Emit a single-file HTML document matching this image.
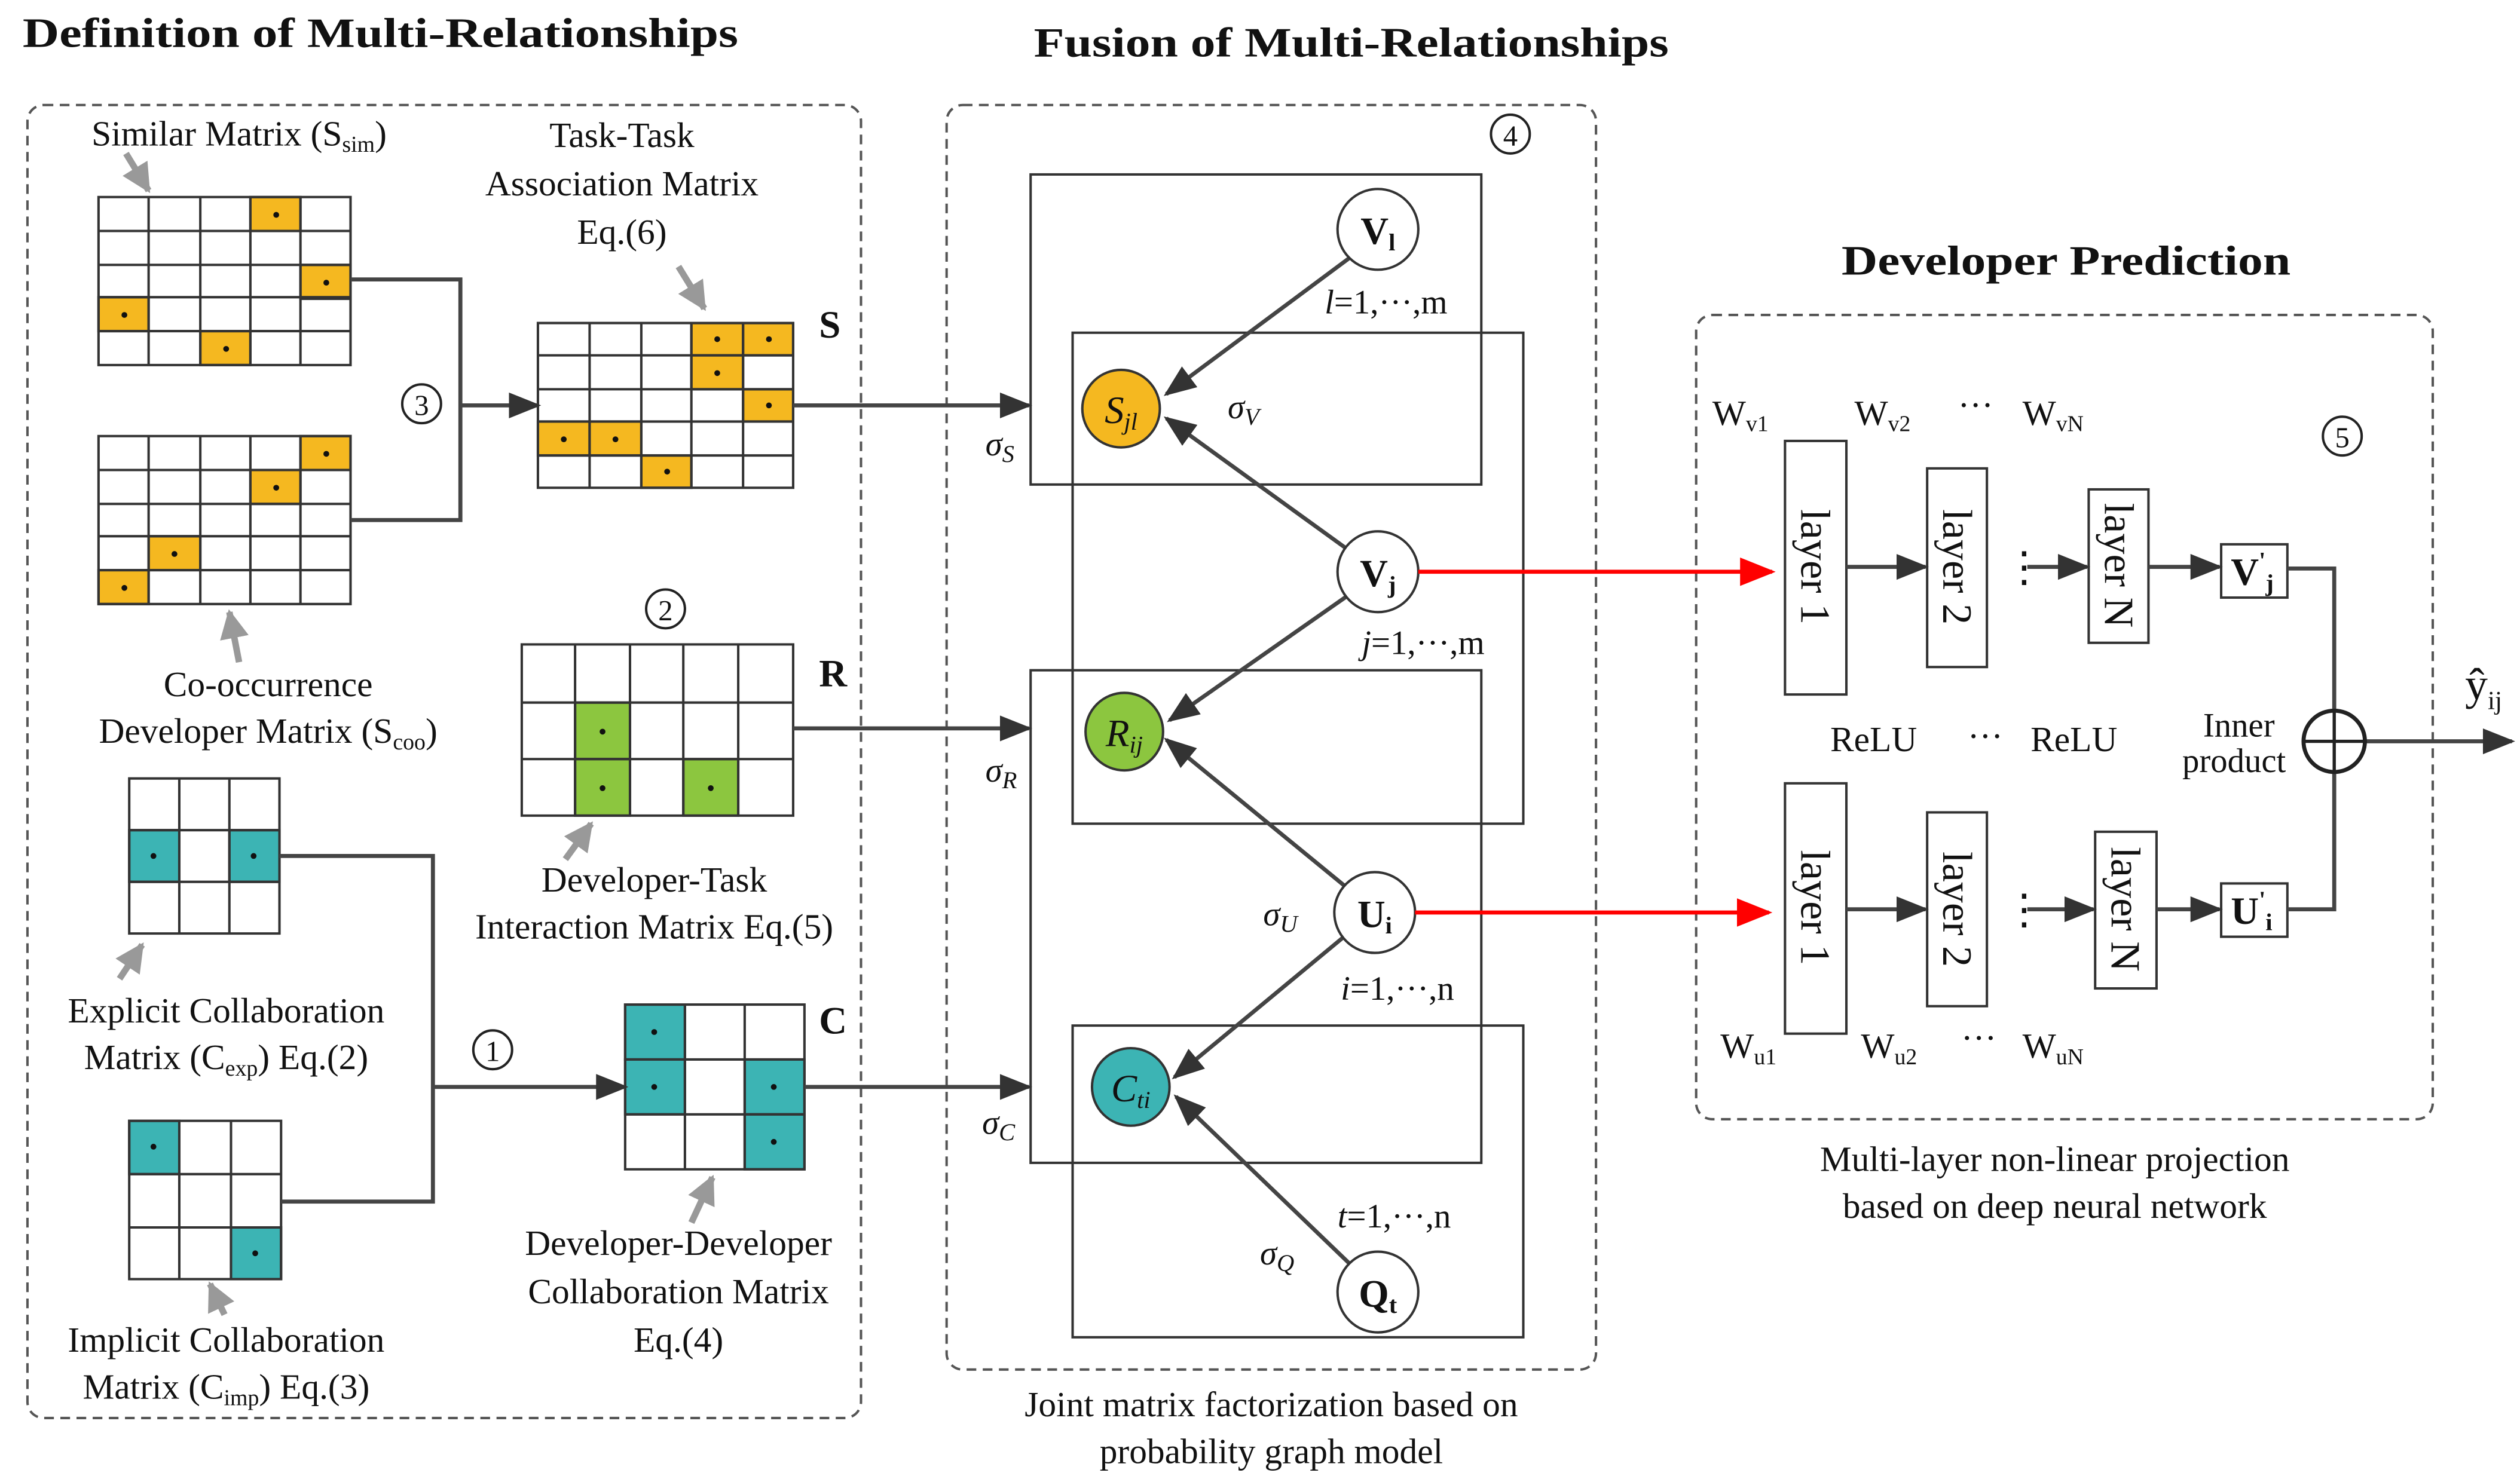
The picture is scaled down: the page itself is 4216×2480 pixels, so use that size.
<!DOCTYPE html>
<html><head><meta charset="utf-8"><style>html,body{margin:0;padding:0;background:#fff}svg{display:block}svg text{font-family:"Liberation Serif","DejaVu Serif",serif}</style></head><body>
<svg xmlns="http://www.w3.org/2000/svg" width="4216" height="2480" viewBox="0 0 1560 917.6" style="font-family:'Liberation Serif','DejaVu Serif',serif" font-size="22" fill="#111">
<defs>
<marker id="ak" viewBox="0 0 10 10" refX="9" refY="5" markerWidth="20" markerHeight="20" orient="auto" markerUnits="userSpaceOnUse"><path d="M0,1L10,5L0,9z" fill="#333"/></marker>
<marker id="ar" viewBox="0 0 10 10" refX="9" refY="5" markerWidth="22" markerHeight="22" orient="auto" markerUnits="userSpaceOnUse"><path d="M0,1L10,5L0,9z" fill="#f00"/></marker>
<marker id="ag" viewBox="0 0 10 10" refX="9" refY="5" markerWidth="18" markerHeight="18" orient="auto" markerUnits="userSpaceOnUse"><path d="M0,0L10,5L0,10z" fill="#999"/></marker>
</defs>
<g font-weight="bold" font-size="26">
<text x="14" y="29" textLength="443" lengthAdjust="spacingAndGlyphs">Definition of  Multi-Relationships</text>
<text x="640" y="35" textLength="393" lengthAdjust="spacingAndGlyphs">Fusion of Multi-Relationships</text>
<text x="1140" y="170" textLength="278" lengthAdjust="spacingAndGlyphs">Developer Prediction</text>
</g>
<g fill="none" stroke="#555" stroke-width="1.5" stroke-dasharray="6,4">
<rect x="17" y="65" width="516" height="813" rx="10"/>
<rect x="586" y="65" width="402" height="783" rx="10"/>
<rect x="1050" y="195" width="456" height="498" rx="10"/>
</g>
<g stroke="#333" stroke-width="1.5">
<g fill="#f5b820"><rect x="155" y="122" width="31" height="21"/><rect x="186" y="164" width="31" height="21"/><rect x="61" y="184" width="31" height="21"/><rect x="124" y="205" width="31" height="21"/></g>
<path d="M61,122H217V226H61Z M92,122V226 M124,122V226 M155,122V226 M186,122V226 M61,143H217 M61,164H217 M61,184H217 M61,205H217" fill="none"/>
<g fill="#f5b820"><rect x="186" y="270" width="31" height="21"/><rect x="155" y="291" width="31" height="21"/><rect x="92" y="332" width="32" height="21"/><rect x="61" y="353" width="31" height="21"/></g>
<path d="M61,270H217V374H61Z M92,270V374 M124,270V374 M155,270V374 M186,270V374 M61,291H217 M61,312H217 M61,332H217 M61,353H217" fill="none"/>
<g fill="#f5b820"><rect x="428" y="200" width="32" height="20"/><rect x="460" y="200" width="31" height="20"/><rect x="428" y="220" width="32" height="21"/><rect x="460" y="241" width="31" height="20"/><rect x="333" y="261" width="32" height="21"/><rect x="365" y="261" width="32" height="21"/><rect x="397" y="282" width="31" height="20"/></g>
<path d="M333,200H491V302H333Z M365,200V302 M397,200V302 M428,200V302 M460,200V302 M333,220H491 M333,241H491 M333,261H491 M333,282H491" fill="none"/>
<g fill="#8cc63f"><rect x="356" y="435" width="34" height="35"/><rect x="356" y="470" width="34" height="35"/><rect x="423" y="470" width="34" height="35"/></g>
<path d="M323,399H491V505H323Z M356,399V505 M390,399V505 M423,399V505 M457,399V505 M323,435H491 M323,470H491" fill="none"/>
<g fill="#3cb4b4"><rect x="80" y="514" width="31" height="32"/><rect x="142" y="514" width="31" height="32"/></g>
<path d="M80,482H173V578H80Z M111,482V578 M142,482V578 M80,514H173 M80,546H173" fill="none"/>
<g fill="#3cb4b4"><rect x="80" y="694" width="31" height="33"/><rect x="143" y="760" width="31" height="32"/></g>
<path d="M80,694H174V792H80Z M111,694V792 M143,694V792 M80,727H174 M80,760H174" fill="none"/>
<g fill="#3cb4b4"><rect x="387" y="622" width="37" height="34"/><rect x="387" y="656" width="37" height="34"/><rect x="461" y="656" width="37" height="34"/><rect x="461" y="690" width="37" height="34"/></g>
<path d="M387,622H498V724H387Z M424,622V724 M461,622V724 M387,656H498 M387,690H498" fill="none"/>
</g>
<g fill="#111">
<circle cx="171" cy="133" r="1.8"/><circle cx="202" cy="175" r="1.8"/><circle cx="77" cy="195" r="1.8"/><circle cx="140" cy="216" r="1.8"/>
<circle cx="202" cy="281" r="1.8"/><circle cx="171" cy="302" r="1.8"/><circle cx="108" cy="343" r="1.8"/><circle cx="77" cy="364" r="1.8"/>
<circle cx="444" cy="210" r="1.8"/><circle cx="476" cy="210" r="1.8"/><circle cx="444" cy="231" r="1.8"/><circle cx="476" cy="251" r="1.8"/><circle cx="349" cy="272" r="1.8"/><circle cx="381" cy="272" r="1.8"/><circle cx="413" cy="292" r="1.8"/>
<circle cx="373" cy="453" r="1.8"/><circle cx="373" cy="488" r="1.8"/><circle cx="440" cy="488" r="1.8"/>
<circle cx="95" cy="530" r="1.8"/><circle cx="157" cy="530" r="1.8"/><circle cx="95" cy="710" r="1.8"/><circle cx="158" cy="776" r="1.8"/>
<circle cx="405" cy="639" r="1.8"/><circle cx="405" cy="673" r="1.8"/><circle cx="479" cy="673" r="1.8"/><circle cx="479" cy="707" r="1.8"/>
</g>
<g fill="none" stroke="#444" stroke-width="2.5">
<path d="M217,173H285V322H217"/>
<path d="M285,251H333" marker-end="url(#ak)"/>
<path d="M491,251H637" marker-end="url(#ak)"/>
<path d="M491,451H637" marker-end="url(#ak)"/>
<path d="M173,530H268V744H174"/>
<path d="M268,673H387" marker-end="url(#ak)"/>
<path d="M498,673H637" marker-end="url(#ak)"/>
</g>
<g stroke="#999" stroke-width="4" fill="none">
<path d="M78,95L92,118" marker-end="url(#ag)"/>
<path d="M420,165L436,191" marker-end="url(#ag)"/>
<path d="M148,410L142,379" marker-end="url(#ag)"/>
<path d="M350,532L366,510" marker-end="url(#ag)"/>
<path d="M74,606L88,585" marker-end="url(#ag)"/>
<path d="M139,814L130,795" marker-end="url(#ag)"/>
<path d="M428,757L441,729" marker-end="url(#ag)"/>
</g>
<g font-size="22" text-anchor="middle">
<text x="148" y="90">Similar Matrix (S<tspan font-size="14" dy="4">sim</tspan><tspan dy="-4">)</tspan></text>
<text x="385" y="91">Task-Task</text><text x="385" y="121">Association Matrix</text><text x="385" y="151">Eq.(6)</text>
<text x="166" y="431">Co-occurrence</text><text x="166" y="460">Developer Matrix (S<tspan font-size="14" dy="4">coo</tspan><tspan dy="-4">)</tspan></text>
<text x="405" y="552">Developer-Task</text><text x="405" y="581">Interaction Matrix Eq.(5)</text>
<text x="140" y="633">Explicit Collaboration</text><text x="140" y="662">Matrix (C<tspan font-size="14" dy="4">exp</tspan><tspan dy="-4">)  Eq.(2)</tspan></text>
<text x="140" y="837">Implicit Collaboration</text><text x="140" y="866">Matrix (C<tspan font-size="14" dy="4">imp</tspan><tspan dy="-4">) Eq.(3)</tspan></text>
<text x="420" y="777">Developer-Developer</text><text x="420" y="807">Collaboration  Matrix</text><text x="420" y="837">Eq.(4)</text>
<text x="787" y="877">Joint matrix factorization based on</text><text x="787" y="906">probability graph model</text>
<text x="1272" y="725">Multi-layer non-linear projection</text><text x="1272" y="754">based on deep neural network</text>
</g>
<g font-weight="bold" font-size="24"><text x="507" y="209">S</text><text x="507" y="425">R</text><text x="507" y="640">C</text></g>
<g fill="none" stroke="#222" stroke-width="1.5">
<circle cx="261" cy="250" r="12"/><circle cx="412" cy="377" r="12"/><circle cx="305" cy="650" r="12"/><circle cx="935" cy="83" r="12"/><circle cx="1450" cy="270" r="12"/>
</g>
<g font-size="18" text-anchor="middle"><text x="261" y="257">3</text><text x="412" y="384">2</text><text x="305" y="657">1</text><text x="935" y="90">4</text><text x="1450" y="277">5</text></g>
<g fill="none" stroke="#333" stroke-width="1.5">
<rect x="638" y="108" width="279" height="192"/><rect x="664" y="206" width="279" height="304"/><rect x="638" y="415" width="279" height="305"/><rect x="664" y="635" width="279" height="193"/>
</g>
<g stroke="#444" stroke-width="2.5" fill="none">
<path d="M835,160L722,244" marker-end="url(#ak)"/>
<path d="M834,340L722,259" marker-end="url(#ak)"/>
<path d="M834,369L724,446" marker-end="url(#ak)"/>
<path d="M833,549L722,458" marker-end="url(#ak)"/>
<path d="M832,580L727,667" marker-end="url(#ak)"/>
<path d="M835,782L728,679" marker-end="url(#ak)"/>
</g>
<g stroke="#333" stroke-width="1.5">
<circle cx="853" cy="142" r="25" fill="#fff"/>
<circle cx="694" cy="253" r="24" fill="#f5b820"/>
<circle cx="853" cy="354" r="25" fill="#fff"/>
<circle cx="696" cy="453" r="24" fill="#8cc63f"/>
<circle cx="851" cy="565" r="25" fill="#fff"/>
<circle cx="700" cy="673" r="24" fill="#3cb4b4"/>
<circle cx="853" cy="800" r="25" fill="#fff"/>
</g>
<g font-size="24" text-anchor="middle">
<text x="853" y="151" font-weight="bold">V<tspan font-size="15" dy="4">l</tspan></text>
<text x="694" y="262" font-style="italic">S<tspan font-size="15" dy="4">jl</tspan></text>
<text x="853" y="363" font-weight="bold">V<tspan font-size="15" dy="4">j</tspan></text>
<text x="696" y="462" font-style="italic">R<tspan font-size="15" dy="4">ij</tspan></text>
<text x="851" y="574" font-weight="bold">U<tspan font-size="15" dy="4">i</tspan></text>
<text x="700" y="682" font-style="italic">C<tspan font-size="15" dy="4">ti</tspan></text>
<text x="853" y="809" font-weight="bold">Q<tspan font-size="15" dy="4">t</tspan></text>
</g>
<g font-size="21">
<text x="820" y="194"><tspan font-style="italic">l</tspan>=1,···,m</text>
<text x="843" y="405"><tspan font-style="italic">j</tspan>=1,···,m</text>
<text x="830" y="619"><tspan font-style="italic">i</tspan>=1,···,n</text>
<text x="828" y="760"><tspan font-style="italic">t</tspan>=1,···,n</text>
<text x="760" y="259" font-style="italic">σ<tspan font-size="15" dy="4">V</tspan></text>
<text x="782" y="573" font-style="italic">σ<tspan font-size="15" dy="4">U</tspan></text>
<text x="780" y="783" font-style="italic">σ<tspan font-size="15" dy="4">Q</tspan></text>
<text x="610" y="282" font-style="italic">σ<tspan font-size="15" dy="4">S</tspan></text>
<text x="610" y="484" font-style="italic">σ<tspan font-size="15" dy="4">R</tspan></text>
<text x="608" y="702" font-style="italic">σ<tspan font-size="15" dy="4">C</tspan></text>
</g>
<g stroke="#f00" stroke-width="2.5" fill="none">
<path d="M878,354H1097" marker-end="url(#ar)"/>
<path d="M876,565H1095" marker-end="url(#ar)"/>
</g>
<g fill="#fff" stroke="#333" stroke-width="1.5">
<rect x="1105" y="273" width="38" height="157"/><rect x="1193" y="290" width="37" height="123"/><rect x="1293" y="303" width="37" height="95"/><rect x="1375" y="337" width="41" height="33"/>
<rect x="1105" y="485" width="38" height="155"/><rect x="1193" y="503" width="37" height="120"/><rect x="1297" y="515" width="38" height="97"/><rect x="1375" y="547" width="41" height="33"/>
</g>
<g font-size="26">
<text transform="translate(1115,351) rotate(90)" text-anchor="middle">layer 1</text>
<text transform="translate(1203,351) rotate(90)" text-anchor="middle">layer 2</text>
<text transform="translate(1303,350) rotate(90)" text-anchor="middle">layer N</text>
<text transform="translate(1115,562) rotate(90)" text-anchor="middle">layer 1</text>
<text transform="translate(1203,563) rotate(90)" text-anchor="middle">layer 2</text>
<text transform="translate(1307,563) rotate(90)" text-anchor="middle">layer N</text>
<text x="1381" y="362" font-weight="bold" font-size="24">V<tspan font-size="15" dy="-10">'</tspan><tspan font-size="15" dy="14">j</tspan></text>
<text x="1381" y="572" font-weight="bold" font-size="24">U<tspan font-size="15" dy="-10">'</tspan><tspan font-size="15" dy="14">i</tspan></text>
</g>
<g stroke="#444" stroke-width="2.5" fill="none">
<path d="M1143,351H1192" marker-end="url(#ak)"/>
<path d="M1255,351H1292" marker-end="url(#ak)"/>
<path d="M1330,351H1374" marker-end="url(#ak)"/>
<path d="M1143,563H1192" marker-end="url(#ak)"/>
<path d="M1255,563H1296" marker-end="url(#ak)"/>
<path d="M1335,563H1374" marker-end="url(#ak)"/>
<path d="M1416,352H1445V440"/>
<path d="M1416,563H1445V478"/>
<path d="M1464,459H1555" marker-end="url(#ak)"/>
<circle cx="1445" cy="459" r="19" stroke="#222"/>
<path d="M1426,459H1464M1445,440V478" stroke="#222" stroke-width="2"/>
</g>
<g font-size="26"><text x="1240" y="360">⋮</text><text x="1240" y="572">⋮</text></g>
<g font-size="22">
<text x="1060" y="263">W<tspan font-size="14" dy="4">v1</tspan></text>
<text x="1148" y="263">W<tspan font-size="14" dy="4">v2</tspan></text>
<text x="1212" y="258">···</text>
<text x="1252" y="263">W<tspan font-size="14" dy="4">vN</tspan></text>
<text x="1065" y="655">W<tspan font-size="14" dy="4">u1</tspan></text>
<text x="1152" y="655">W<tspan font-size="14" dy="4">u2</tspan></text>
<text x="1214" y="650">···</text>
<text x="1252" y="655">W<tspan font-size="14" dy="4">uN</tspan></text>
<text x="1133" y="465">ReLU</text><text x="1218" y="463">···</text><text x="1257" y="465">ReLU</text>
<text x="1386" y="456" text-anchor="middle" font-size="21">Inner</text><text x="1383" y="478" text-anchor="middle" font-size="21">product</text>
<text x="1526" y="433" font-size="28">ŷ<tspan font-size="16" dy="6">ij</tspan></text>
</g>
</svg>
</body></html>
